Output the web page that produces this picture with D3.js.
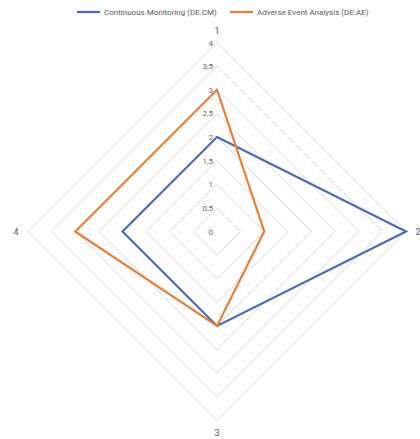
<!DOCTYPE html>
<html><head><meta charset="utf-8">
<script src="https://cdn.jsdelivr.net/npm/d3@7"></script>
<style>body{margin:0;background:#fff}text{font-family:Roboto,"Noto Sans",sans-serif}</style>
</head><body><svg id="c" width="420" height="439"></svg>
<script>
const axes = ["1","2","3","4"];
const seriesNames = ["Continuous Monitoring (DE.CM)","Adverse Event Analysis (DE.AE)"];
const cmValues = [2,4,2,2];
const aeValues = [3,1,2,3];
const tickValues = [0,0.5,1,1.5,2,2.5,3,3.5,4];
const tickLabels = ["0","0,5","1","1,5","2","2,5","3","3,5","4"];
const colors = ["#4A6AB6","#E67E3A"];

const svg = d3.select("#c");
const cx = 217, cy = 231.5, R = 189;
const r = d3.scaleLinear().domain([0,4]).range([0,R]);
const ang = d3.scalePoint().domain(axes).range([0, 2*Math.PI*3/4]);
const pt = (a,v)=>[cx + r(v)*Math.sin(ang(a)), cy - r(v)*Math.cos(ang(a))];

tickValues.forEach(t=>{
  svg.append("path").attr("d", d3.line()(axes.map(a=>pt(a,t))) + "Z")
    .attr("fill","none").attr("stroke","#d9d9d9").attr("stroke-width",1);
});
tickValues.forEach((t,i)=>{
  svg.append("text").attr("x",cx-4).attr("y",cy - r(t)+3)
    .attr("text-anchor","end").attr("font-size",8).attr("fill","#666").text(tickLabels[i]);
});
const labOff = 12;
axes.forEach(a=>{
  const [x,y] = pt(a,4);
  const dx = Math.sin(ang(a))*labOff, dy = -Math.cos(ang(a))*labOff;
  svg.append("text").attr("x",x+dx).attr("y",y+dy+3).attr("text-anchor","middle")
    .attr("font-size",9).attr("fill","#595959").text(a);
});
[cmValues, aeValues].forEach((vals,i)=>{
  svg.append("path").attr("d", d3.line()(axes.map((a,j)=>pt(a,vals[j]))) + "Z")
    .attr("fill","none").attr("stroke",colors[i]).attr("stroke-width",2.2).attr("stroke-linejoin","miter");
});
const lg = [{x:77},{x:230}];
seriesNames.forEach((n,i)=>{
  svg.append("line").attr("x1",lg[i].x).attr("x2",lg[i].x+23).attr("y1",12).attr("y2",12)
    .attr("stroke",colors[i]).attr("stroke-width",2.2);
  svg.append("text").attr("x",lg[i].x+27).attr("y",15).attr("font-size",8).attr("fill","#595959").text(n);
});
</script></body></html>
